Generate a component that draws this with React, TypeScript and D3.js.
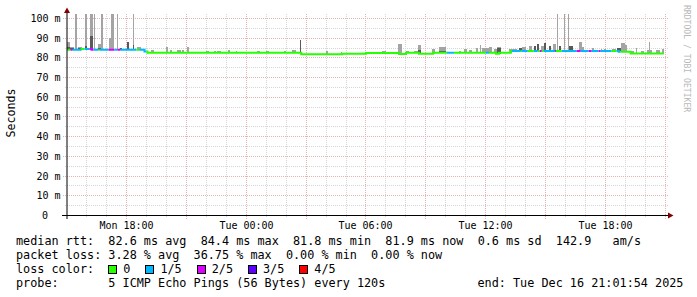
import React from "react";
import * as d3 from "d3";

// ---- time frame ----
const START = new Date(2025, 11, 15, 15, 1, 54);
const END = new Date(2025, 11, 16, 21, 1, 54);
const DATA_END_MIN = 1794;

// ---- axis ----
const yTickValues = [0, 10, 20, 30, 40, 50, 60, 70, 80, 90, 100];
const yMinorValues = [5, 15, 25, 35, 45, 55, 65, 75, 85, 95];
const yUnit = "m";
const yTitle = "Seconds";

// ---- median rtt step runs (start minute from START, ms) ----
const medianStartMin = [0, 45, 75, 234, 243, 705, 828, 900, 999, 1020, 1059, 1101, 1290, 1299, 1335, 1659, 1695];
const medianMs = [83.8, 84.2, 83.8, 83.0, 82.3, 81.6, 81.8, 82.2, 81.7, 82.3, 81.8, 82.3, 81.8, 82.3, 83.2, 82.8, 81.9];

// ---- packet loss runs (start minute, end minute, lost pings of 5) ----
const lossStart = [12, 18, 54, 69, 81, 99, 126, 144, 153, 162, 219, 1143, 1260, 1338, 1368, 1404, 1422, 1434, 1467, 1488, 1533, 1545, 1569, 1578, 1599, 1605, 1653];
const lossEnd = [18, 45, 69, 81, 96, 126, 144, 153, 162, 210, 240, 1164, 1269, 1365, 1386, 1416, 1428, 1467, 1470, 1533, 1545, 1569, 1578, 1599, 1605, 1638, 1665];
const lossLevel = [2, 1, 1, 2, 1, 1, 2, 1, 2, 1, 1, 1, 1, 1, 1, 1, 2, 1, 3, 1, 2, 1, 2, 1, 2, 1, 1];

// ---- smoke (start minute, duration minutes, inner ping top ms (0 = none), outer ping top ms) ----
const smokeStart = [0, 9, 24, 33, 54, 69, 81, 93, 102, 126, 132, 150, 159, 180, 201, 213,
  255, 300, 312, 333, 348, 363, 420, 444, 453, 486, 510, 573, 600, 654, 678, 702, 780, 825, 909, 948, 996, 1020, 1044, 1056, 1098, 1119, 1179, 1194, 1209, 1230, 1242, 1248,
  1260, 1269, 1284, 1293, 1329, 1338, 1359, 1368, 1389, 1404, 1413, 1425, 1434, 1449, 1461, 1473, 1479, 1494, 1506, 1509, 1539, 1548, 1578, 1605, 1614, 1638, 1653, 1665, 1677, 1695, 1710, 1725, 1743, 1749, 1770, 1788];
const smokeDur = [9, 12, 6, 12, 6, 9, 3, 9, 6, 6, 9, 3, 6, 9, 3, 12,
  9, 6, 6, 12, 6, 6, 9, 6, 12, 6, 3, 9, 9, 6, 12, 3, 6, 3, 18, 12, 12, 9, 12, 9, 9, 21, 6, 9, 9, 6, 3, 12,
  9, 9, 9, 12, 9, 15, 9, 12, 9, 6, 6, 9, 6, 6, 9, 3, 6, 3, 3, 12, 9, 6, 6, 3, 6, 12, 12, 12, 6, 9, 3, 9, 15, 3, 12, 6];
const smokeInner = [85.5, 85.0, 0, 84.6, 85.8, 90.9, 0, 85.0, 0, 0, 0, 0, 85.0, 87.6, 86.3, 0,
  0, 0, 0, 0, 0, 0, 0, 0, 0, 0, 0, 0, 0, 0, 0, 88.8, 0, 0, 0, 0, 0, 0, 0, 83.6, 0, 83.4, 0, 0, 0, 0, 0, 0,
  0, 0, 0, 85.0, 0, 83.8, 84.6, 0, 0, 85.6, 86.6, 0, 87.1, 85.8, 0, 0, 85.6, 0, 0, 85.8, 0, 0, 0, 0, 0, 0, 85.0, 0, 0, 0, 0, 0, 0, 0, 0, 0];
const smokeOuter = [88.0, 85.5, 103, 85.2, 103, 103, 103, 86.8, 103, 89.8, 103, 103, 85.0, 87.6, 103, 85.2,
  83.8, 85.1, 83.8, 83.8, 83.6, 85.1, 83.2, 83.2, 83.2, 83.8, 83.4, 83.2, 83.2, 83.2, 83.8, 88.8, 83.4, 82.6, 82.8, 83.4, 86.8, 83.4, 83.4, 86.4, 84.3, 85.5, 83.3, 84.3, 83.8, 84.7, 86.3, 84.7,
  85.0, 85.5, 84.3, 85.5, 84.3, 84.3, 84.6, 85.5, 86.0, 85.6, 86.6, 86.0, 87.1, 85.8, 86.6, 103, 85.6, 103, 103, 85.8, 87.6, 85.5, 85.0, 84.3, 84.3, 84.3, 85.0, 87.1, 86.3, 83.0, 84.7, 83.4, 83.8, 88.0, 83.8, 84.3];

// ---- legend ----
const lossLabels = ["0", "1/5", "2/5", "3/5", "4/5"];
const lossColors = ["#26ff00", "#00b8ff", "#dd00ff", "#5e00ff", "#ff0000"];
const legendLines = [
  "median rtt:  82.6 ms avg  84.4 ms max  81.8 ms min  81.9 ms now  0.6 ms sd  142.9   am/s",
  "packet loss: 3.28 % avg  36.75 % max  0.00 % min  0.00 % now",
  "loss color:",
  "probe:       5 ICMP Echo Pings (56 Bytes) every 120s",
];
const endLabel = "end: Tue Dec 16 21:01:54 2025";
const watermark = "RRDTOOL / TOBI OETIKER";

const MONO = "'DejaVu Sans Mono', monospace";

export default function App() {
  const W = 697, H = 297;
  const plotLeft = 66.6, plotRight = 665.6, plotTop = 14, plotBottom = 215;
  const x = d3.scaleTime().domain([START, END]).range([plotLeft, plotRight]);
  const y = d3.scaleLinear().domain([0, 102]).range([plotBottom, plotTop]);
  const tAt = (m: number) => new Date(START.getTime() + m * 60000);
  const xm = (m: number) => x(tAt(m));
  const crisp = (v: number) => Math.round(v) + 0.5;

  const hours = d3.timeHour.every(1)!.range(START, END);
  const majorX = hours.filter((d) => d.getHours() % 3 === 0);
  const minorX = hours.filter((d) => d.getHours() % 3 !== 0);
  const labelX = hours.filter((d) => d.getHours() % 6 === 0);
  const fmt = d3.timeFormat("%a %H:%M");

  const medianAt = (m: number) => {
    const i = d3.bisectRight(medianStartMin, m) - 1;
    return medianMs[Math.max(0, i)];
  };
  const lossAt = (m: number) => {
    for (let i = 0; i < lossStart.length; i++) {
      if (m >= lossStart[i] && m < lossEnd[i]) return lossLevel[i];
    }
    return 0;
  };

  const bps = Array.from(new Set([0, DATA_END_MIN, ...medianStartMin, ...lossStart, ...lossEnd]))
    .filter((v) => v >= 0 && v <= DATA_END_MIN)
    .sort((a, b) => a - b);
  type Chunk = { loss: number; pts: [number, number][] };
  const chunks: Chunk[] = [];
  let prevV: number | null = null;
  for (let i = 0; i < bps.length - 1; i++) {
    const a = bps[i], b = bps[i + 1];
    const v = medianAt(a);
    const l = lossAt(a);
    let c = chunks[chunks.length - 1];
    if (!c || c.loss !== l) {
      if (c) c.pts.push([a, prevV as number]);
      c = { loss: l, pts: [] };
      if (prevV !== null) c.pts.push([a, prevV]);
      chunks.push(c);
    }
    c.pts.push([a, v]);
    prevV = v;
    if (i === bps.length - 2) c.pts.push([b, v]);
  }
  const line = d3
    .line<[number, number]>()
    .x((d) => xm(d[0]))
    .y((d) => y(d[1]))
    .curve(d3.curveStepAfter);

  const smoke = smokeStart.map((s, i) => ({
    s,
    d: smokeDur[i],
    inner: smokeInner[i],
    outer: smokeOuter[i],
  }));

  const legendX = 16;
  const charW = 7.1;
  const legendBase = [245, 259, 273, 287];

  let sx = legendX + 13 * charW;
  const swatches = lossLabels.map((lab, i) => {
    const item = { x: sx, lab, color: lossColors[i] };
    sx = sx + 15 + lab.length * charW + 15;
    return item;
  });

  const minorCol = "#d6d6d6";
  const majorCol = "#e6b2b2";

  return (
    <svg
      width={W}
      height={H}
      viewBox={`0 0 ${W} ${H}`}
      style={{ position: "absolute", left: 0, top: 0, display: "block", background: "#fff" }}
    >
      <rect x={0} y={0} width={W} height={H} fill="#ffffff" />
      <defs>
        <clipPath id="plotclip">
          <rect x={67} y={plotTop} width={plotRight - 67} height={plotBottom - plotTop} />
        </clipPath>
      </defs>

      {/* grid */}
      <g shapeRendering="crispEdges" strokeWidth={1}>
        {yMinorValues.map((v) => (
          <line key={"ym" + v} x1={65} x2={668} y1={crisp(y(v))} y2={crisp(y(v))} stroke={minorCol} strokeDasharray="1,1" />
        ))}
        {minorX.map((d) => (
          <line key={"xm" + d.getTime()} x1={crisp(x(d))} x2={crisp(x(d))} y1={plotTop} y2={217} stroke={minorCol} strokeDasharray="1,1" />
        ))}
        {yTickValues.filter((v) => v > 0).map((v) => (
          <line key={"yM" + v} x1={63} x2={668} y1={crisp(y(v))} y2={crisp(y(v))} stroke={majorCol} strokeDasharray="1,1" />
        ))}
        {majorX.map((d) => (
          <line key={"xM" + d.getTime()} x1={crisp(x(d))} x2={crisp(x(d))} y1={plotTop} y2={219} stroke={majorCol} strokeDasharray="1,1" />
        ))}
      </g>

      {/* smoke */}
      <g clipPath="url(#plotclip)" shapeRendering="crispEdges">
        {smoke.map((b, i) => (
          <rect
            key={"so" + i}
            x={xm(b.s)}
            width={Math.max(1, xm(b.s + b.d) - xm(b.s))}
            y={y(b.outer)}
            height={Math.max(0, y(medianAt(b.s)) - y(b.outer))}
            fill="#a4a4a4"
          />
        ))}
        {smoke
          .filter((b) => b.inner > 0)
          .map((b, i) => (
            <rect
              key={"si" + i}
              x={xm(b.s)}
              width={Math.max(1, xm(b.s + b.d) - xm(b.s))}
              y={y(b.inner)}
              height={Math.max(0, y(medianAt(b.s)) - y(b.inner))}
              fill="#595959"
            />
          ))}
      </g>

      {/* median line */}
      <g clipPath="url(#plotclip)">
        {chunks.map((c, i) => (
          <path key={"md" + i} d={line(c.pts) || ""} fill="none" stroke={lossColors[c.loss]} strokeWidth={2} />
        ))}
      </g>

      {/* axes */}
      <line x1={62} x2={668} y1={215.5} y2={215.5} stroke="#000" strokeWidth={1} shapeRendering="crispEdges" />
      <line x1={67} x2={67} y1={219} y2={11} stroke="#000" strokeWidth={1} />
      <path d="M67,7.5 L64,13 L70,13 Z" fill="#7f0000" />
      <path d="M673.5,215.5 L668,212.5 L668,218.5 Z" fill="#7f0000" />

      {/* axis labels */}
      <g fontFamily={MONO} fontSize={10} fill="#000">
        {yTickValues.map((v) => (
          <text key={"yl" + v} x={v === 0 ? 48 : 60.5} y={Math.round(y(v)) + 4} textAnchor="end">
            {v === 0 ? "0" : `${v} ${yUnit}`}
          </text>
        ))}
        {labelX.map((d) => (
          <text key={"xl" + d.getTime()} x={crisp(x(d))} y={228.5} textAnchor="middle">
            {fmt(d)}
          </text>
        ))}
      </g>

      <text transform="translate(15,113) rotate(-90)" fontFamily={MONO} fontSize={11.6} textAnchor="middle" fill="#000">
        {yTitle}
      </text>

      <text transform="translate(684,5) rotate(90)" fontFamily={MONO} fontSize={8.1} fill="#b8b8b8">
        {watermark}
      </text>

      {/* legend */}
      <g fontFamily={MONO} fontSize={11.8} fill="#000" style={{ whiteSpace: "pre" }}>
        {legendLines.map((t, i) => (
          <text key={"lg" + i} x={legendX} y={legendBase[i]} xmlSpace="preserve">
            {t}
          </text>
        ))}
        <text x={legendX + 65 * charW} y={legendBase[3]} xmlSpace="preserve">
          {endLabel}
        </text>
        {swatches.map((s, i) => (
          <g key={"sw" + i}>
            <rect x={Math.round(s.x) + 0.5} y={265.5} width={8} height={8} fill={s.color} stroke="#000" strokeWidth={1} />
            <text x={s.x + 15} y={legendBase[2]}>
              {s.lab}
            </text>
          </g>
        ))}
      </g>
    </svg>
  );
}
